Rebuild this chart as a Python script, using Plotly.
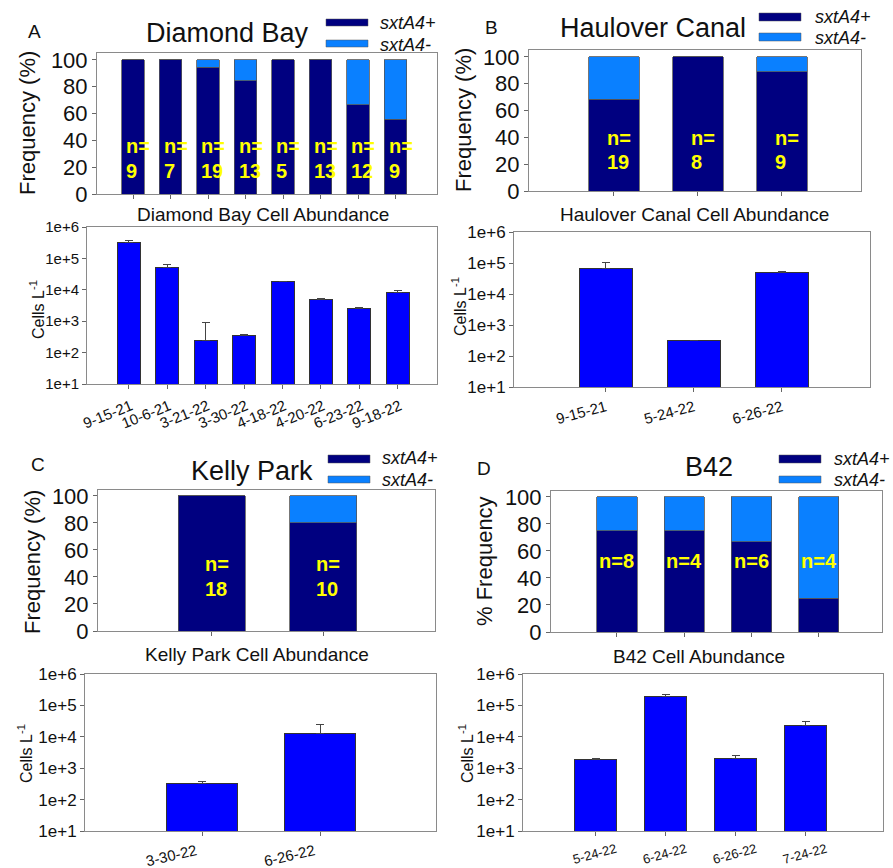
import plotly.graph_objects as go

# ---------------- data ----------------
db_dates = ["9-15-21", "10-6-21", "3-21-22", "3-30-22", "4-18-22", "4-20-22", "6-23-22", "9-18-22"]
db_n = [9, 7, 19, 13, 5, 13, 12, 9]
db_pos = [100, 100, 94.7, 84.6, 100, 100, 66.7, 55.6]
db_neg = [0, 0, 5.3, 15.4, 0, 0, 33.3, 44.4]
db_cells = [3.2e5, 5.2e4, 245, 340, 1.85e4, 5.0e3, 2.5e3, 8.2e3]
db_err = [5e4, 1.1e4, 665, 45, 500, 400, 300, 1.5e3]

hc_dates = ["9-15-21", "5-24-22", "6-26-22"]
hc_n = [19, 8, 9]
hc_pos = [68.4, 100, 88.9]
hc_neg = [31.6, 0, 11.1]
hc_cells = [6.9e4, 316, 4.9e4]
hc_err = [3.7e4, 5, 5e3]

kp_dates = ["3-30-22", "6-26-22"]
kp_n = [18, 10]
kp_pos = [100, 80]
kp_neg = [0, 20]
kp_cells = [324, 1.25e4]
kp_err = [46, 1.25e4]

b42_dates = ["5-24-22", "6-24-22", "6-26-22", "7-24-22"]
b42_n = [8, 4, 6, 4]
b42_pos = [75, 75, 66.7, 25]
b42_neg = [25, 25, 33.3, 75]
b42_cells = [1900, 1.9e5, 2100, 2.3e4]
b42_err = [100, 2.5e4, 500, 8e3]

log_tickvals = [1e1, 1e2, 1e3, 1e4, 1e5, 1e6]
log_ticktext = ["1e+1", "1e+2", "1e+3", "1e+4", "1e+5", "1e+6"]
freq_ticks = [0, 20, 40, 60, 80, 100]

# ---------------- styling ----------------
W, H = 893, 868
FONT = "Liberation Sans, Arial, sans-serif"
DARK = "#000080"
LIGHT = "#0A80FF"
BLUE = "#0000FF"
YEL = "#FFFF00"
FRAME = "#8a8a8a"


def px(x):
    return x / W


def py(y):
    return 1 - y / H


fig = go.Figure()
annotations = []
shapes = []


def axis_common():
    return dict(showline=True, mirror=True, linecolor=FRAME, linewidth=1,
                ticks="outside", ticklen=4, tickcolor="#666", showgrid=False,
                zeroline=False, fixedrange=True, automargin=False)


def add_freq(i, cats, pos, neg, n, box, xr, ytop, lab_y, two_line, ylabel):
    xa = "x" if i == 1 else f"x{i}"
    ya = "y" if i == 1 else f"y{i}"
    fig.add_trace(go.Bar(x=cats, y=pos, xaxis=xa, yaxis=ya, width=0.6,
                         marker=dict(color=DARK, line=dict(color="#555", width=0.8)),
                         showlegend=False, hoverinfo="skip"))
    fig.add_trace(go.Bar(x=cats, y=neg, xaxis=xa, yaxis=ya, width=0.6,
                         marker=dict(color=LIGHT, line=dict(color="#555", width=0.8)),
                         showlegend=False, hoverinfo="skip"))
    x0, x1, y0, y1 = box
    xk = "xaxis" if i == 1 else f"xaxis{i}"
    yk = "yaxis" if i == 1 else f"yaxis{i}"
    fig.layout[xk] = dict(domain=[px(x0), px(x1)], anchor=ya, type="category",
                          range=list(xr), showticklabels=False, **axis_common())
    fig.layout[yk] = dict(domain=[py(y1), py(y0)], anchor=xa, range=[0, ytop],
                          tickvals=freq_ticks, ticktext=[str(v) for v in freq_ticks],
                          tickfont=dict(size=22, color="#111", family=FONT), **axis_common())
    for c, k in zip(cats, n):
        if two_line:
            annotations.append(dict(x=c, y=lab_y[0], xref=xa, yref=ya, text="<b>n=</b>",
                                    showarrow=False, xanchor="left", yanchor="middle", xshift=-9,
                                    font=dict(size=20, color=YEL, family=FONT)))
            annotations.append(dict(x=c, y=lab_y[1], xref=xa, yref=ya, text=f"<b>{k}</b>",
                                    showarrow=False, xanchor="left", yanchor="middle", xshift=-9,
                                    font=dict(size=20, color=YEL, family=FONT)))
        else:
            annotations.append(dict(x=c, y=lab_y[0], xref=xa, yref=ya, text=f"<b>n={k}</b>",
                                    showarrow=False, xanchor="center", yanchor="middle",
                                    font=dict(size=20, color=YEL, family=FONT)))
    lx, ly = ylabel[1], ylabel[2]
    annotations.append(dict(x=px(lx), y=py(ly), xref="paper", yref="paper", text=ylabel[0],
                            textangle=-90, showarrow=False, xanchor="center", yanchor="middle",
                            font=dict(size=22, color="#111", family=FONT)))


def add_cells(i, cats, vals, err, box, xr, yfs, ylabel, xangle, xfs, xshift, xstand):
    xa = "x" if i == 1 else f"x{i}"
    ya = "y" if i == 1 else f"y{i}"
    fig.add_trace(go.Bar(x=cats, y=vals, xaxis=xa, yaxis=ya, width=0.6,
                         marker=dict(color=BLUE, line=dict(color="#333", width=1)),
                         error_y=dict(type="data", symmetric=False, array=err,
                                      arrayminus=[0] * len(err), color="#444",
                                      thickness=1, width=4),
                         showlegend=False, hoverinfo="skip"))
    x0, x1, y0, y1 = box
    xk = "xaxis" if i == 1 else f"xaxis{i}"
    yk = "yaxis" if i == 1 else f"yaxis{i}"
    fig.layout[xk] = dict(domain=[px(x0), px(x1)], anchor=ya, type="category",
                          range=list(xr), tickangle=xangle, ticklabelshift=xshift,
                          ticklabelstandoff=xstand,
                          tickfont=dict(size=xfs, color="#111", family=FONT), **axis_common())
    fig.layout[yk] = dict(domain=[py(y1), py(y0)], anchor=xa, type="log", range=[1, 6],
                          tickvals=log_tickvals, ticktext=log_ticktext,
                          tickfont=dict(size=yfs, color="#111", family=FONT), **axis_common())
    lx, ly = ylabel
    annotations.append(dict(x=px(lx), y=py(ly), xref="paper", yref="paper",
                            text="Cells L<sup>-1</sup>", textangle=-90, showarrow=False,
                            xanchor="center", yanchor="middle",
                            font=dict(size=16, color="#111", family=FONT)))


# Panel A
add_freq(1, db_dates, db_pos, db_neg, db_n, (97, 437, 53, 194), (-0.96, 8.1), 105.2,
         (35.8, 17.5), True, ("Frequency (%)", 28, 123))
add_cells(2, db_dates, db_cells, db_err, (87, 437, 227, 384), (-1.09, 8.02), 15, (37, 310),
          -22, 15, 2, 3)
# Panel B
add_freq(3, hc_dates, hc_pos, hc_neg, hc_n, (529, 861, 50, 191), (-1.01, 2.94), 105.2,
         (39.5, 21.9), True, ("Frequency (%)", 463, 120))
add_cells(4, hc_dates, hc_cells, hc_err, (514, 870, 232, 387), (-1.04, 3.0), 17, (459, 307),
          -15, 15, 0, 1)
# Panel C
add_freq(5, kp_dates, kp_pos, kp_neg, kp_n, (98, 435, 490, 631), (-1.02, 2.0), 104.4,
         (49.4, 31), True, ("Frequency (%)", 32, 562))
add_cells(6, kp_dates, kp_cells, kp_err, (85, 436, 674, 831), (-0.99, 1.98), 17, (25, 754),
          -13, 15, -6, 1)
# Panel D
add_freq(7, b42_dates, b42_pos, b42_neg, b42_n, (551, 882, 491, 632), (-0.98, 3.94), 104.4,
         (52.4,), False, ("% Frequency", 484, 561))
add_cells(8, b42_dates, b42_cells, b42_err, (523, 883, 674, 831), (-1.04, 4.1), 17, (466, 754),
          -15, 13, 20, 1)

texts = [
    ("A", 34, 32, 19), ("B", 491, 28, 19), ("C", 38, 464, 19), ("D", 484, 468, 19),
    ("Diamond Bay", 228, 33, 27), ("Haulover Canal", 653, 28, 27),
    ("Kelly Park", 252, 471, 27), ("B42", 709, 467, 27),
    ("Diamond Bay Cell Abundance", 263, 214, 19), ("Haulover Canal Cell Abundance", 694, 214, 19),
    ("Kelly Park Cell Abundance", 257, 654, 19), ("B42 Cell Abundance", 699, 656, 19),
]
for t, x, y, s in texts:
    annotations.append(dict(x=px(x), y=py(y), xref="paper", yref="paper", text=t,
                            showarrow=False, xanchor="center", yanchor="middle",
                            font=dict(size=s, color="#111", family=FONT)))

legends = [
    (326, 368, (19, 26), (40, 47), 378, 23, 45),
    (759, 801, (13, 21), (33, 41), 813, 17, 38),
    (328, 370, (455, 463), (476, 483), 380, 458, 480),
    (779, 821, (455, 463), (476, 483), 832, 459, 480),
]
for x0, x1, d, l, tx, ty1, ty2 in legends:
    shapes.append(dict(type="rect", xref="paper", yref="paper", x0=px(x0), x1=px(x1),
                       y0=py(d[1]), y1=py(d[0]), fillcolor=DARK, line=dict(color="#555", width=0.5)))
    shapes.append(dict(type="rect", xref="paper", yref="paper", x0=px(x0), x1=px(x1),
                       y0=py(l[1]), y1=py(l[0]), fillcolor=LIGHT, line=dict(color="#555", width=0.5)))
    annotations.append(dict(x=px(tx), y=py(ty1), xref="paper", yref="paper", text="<i>sxtA4+</i>",
                            showarrow=False, xanchor="left", yanchor="middle",
                            font=dict(size=18, color="#111", family=FONT)))
    annotations.append(dict(x=px(tx), y=py(ty2), xref="paper", yref="paper", text="<i>sxtA4-</i>",
                            showarrow=False, xanchor="left", yanchor="middle",
                            font=dict(size=18, color="#111", family=FONT)))

fig.update_layout(width=W, height=H, margin=dict(l=0, r=0, t=0, b=0, autoexpand=False),
                  paper_bgcolor="white", plot_bgcolor="white", barmode="stack",
                  bargap=0.4, annotations=annotations, shapes=shapes,
                  font=dict(family=FONT, color="#111"), showlegend=False)

fig.write_html("out.html", config={"displayModeBar": False},
               post_script="document.body.style.margin='0px';document.body.style.overflow='hidden';")
